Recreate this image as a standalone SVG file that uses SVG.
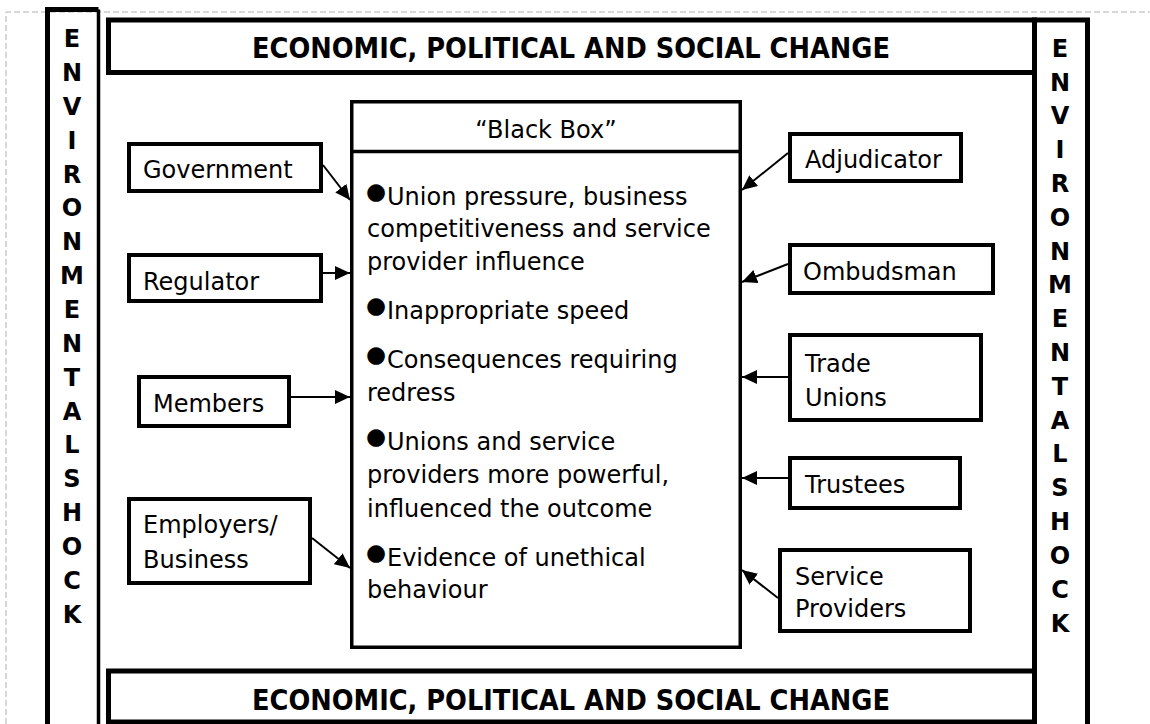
<svg xmlns="http://www.w3.org/2000/svg" width="1150" height="724" viewBox="0 0 1150 724">
<style>
text{font-family:"DejaVu Sans","Liberation Sans",sans-serif;fill:#000}
.t{font-size:24px}
.b{font-size:28px;font-weight:bold}
.env{font-size:24px;font-weight:bold;text-anchor:middle}
.box{fill:#fff;stroke:#000;stroke-width:4}
.frame{fill:none;stroke:#000;stroke-width:5}
.con line{stroke:#000;stroke-width:2}
.dot{font-size:23px}
</style>
<defs>
<marker id="ah" markerUnits="userSpaceOnUse" markerWidth="16" markerHeight="14" refX="15" refY="7" orient="auto">
<path d="M0,0 L15,7 L0,14 z" fill="#000"/>
</marker>
</defs>
<rect width="1150" height="724" fill="#fff"/>
<path d="M6,724 V12 H1150" fill="none" stroke="#b0b0b0" stroke-width="1" stroke-dasharray="6,3"/>

<g id="env-left">
<path d="M47.5,730 V9.5 H98.5" class="frame"/>
<line x1="98.5" y1="9.5" x2="98.5" y2="730" stroke="#000" stroke-width="3.5"/>
<text class="env" x="72"><tspan y="47">E</tspan><tspan x="72" y="81">N</tspan><tspan x="72" y="115">V</tspan><tspan x="72" y="149">I</tspan><tspan x="72" y="183">R</tspan><tspan x="72" y="216">O</tspan><tspan x="72" y="250">N</tspan><tspan x="72" y="284">M</tspan><tspan x="72" y="318">E</tspan><tspan x="72" y="352">N</tspan><tspan x="72" y="386">T</tspan><tspan x="72" y="420">A</tspan><tspan x="72" y="453">L</tspan><tspan x="72" y="487">S</tspan><tspan x="72" y="521">H</tspan><tspan x="72" y="555">O</tspan><tspan x="72" y="589">C</tspan><tspan x="72" y="623">K</tspan></text>
</g>

<g id="env-right">
<rect x="1034.5" y="20" width="53" height="720" class="frame"/>
<text class="env" x="1060"><tspan y="57">E</tspan><tspan x="1060" y="91">N</tspan><tspan x="1060" y="124">V</tspan><tspan x="1060" y="158">I</tspan><tspan x="1060" y="192">R</tspan><tspan x="1060" y="226">O</tspan><tspan x="1060" y="260">N</tspan><tspan x="1060" y="293">M</tspan><tspan x="1060" y="327">E</tspan><tspan x="1060" y="361">N</tspan><tspan x="1060" y="395">T</tspan><tspan x="1060" y="429">A</tspan><tspan x="1060" y="462">L</tspan><tspan x="1060" y="496">S</tspan><tspan x="1060" y="530">H</tspan><tspan x="1060" y="564">O</tspan><tspan x="1060" y="598">C</tspan><tspan x="1060" y="632">K</tspan></text>
</g>

<g id="banner-top">
<rect x="108.5" y="20" width="926" height="52.5" class="frame"/>
<text class="b" x="571" y="58" text-anchor="middle" textLength="638" lengthAdjust="spacingAndGlyphs">ECONOMIC, POLITICAL AND SOCIAL CHANGE</text>
</g>

<g id="banner-bottom">
<rect x="108.5" y="671" width="926" height="51" class="frame"/>
<text class="b" x="571" y="710" text-anchor="middle" textLength="638" lengthAdjust="spacingAndGlyphs">ECONOMIC, POLITICAL AND SOCIAL CHANGE</text>
</g>

<g id="black-box">
<rect x="351.75" y="101.75" width="388.5" height="545.5" fill="#fff" stroke="#000" stroke-width="3.5"/>
<line x1="351.75" y1="151.5" x2="740.25" y2="151.5" stroke="#000" stroke-width="3.5"/>
<text class="t" x="546" y="138" text-anchor="middle">“Black Box”</text>
<text class="t" x="366" y="205"><tspan class="dot" dy="-6">●</tspan><tspan x="387" dy="6">Union pressure, business</tspan></text>
<text class="t" x="367" y="237">competitiveness and service</text>
<text class="t" x="367" y="270">provider influence</text>
<text class="t" x="366" y="319"><tspan class="dot" dy="-6">●</tspan><tspan x="387" dy="6">Inappropriate speed</tspan></text>
<text class="t" x="366" y="368"><tspan class="dot" dy="-6">●</tspan><tspan x="387" dy="6">Consequences requiring</tspan></text>
<text class="t" x="367" y="401">redress</text>
<text class="t" x="366" y="450"><tspan class="dot" dy="-6">●</tspan><tspan x="387" dy="6">Unions and service</tspan></text>
<text class="t" x="367" y="483">providers more powerful,</text>
<text class="t" x="367" y="517">influenced the outcome</text>
<text class="t" x="366" y="566"><tspan class="dot" dy="-6">●</tspan><tspan x="387" dy="6">Evidence of unethical</tspan></text>
<text class="t" x="367" y="598">behaviour</text>
</g>

<g id="government"><rect x="129" y="144" width="192" height="47" class="box"/><text class="t" x="143" y="178">Government</text></g>
<g id="regulator"><rect x="129" y="255" width="192" height="46" class="box"/><text class="t" x="143" y="290">Regulator</text></g>
<g id="members"><rect x="139" y="377" width="150" height="49" class="box"/><text class="t" x="153" y="412">Members</text></g>
<g id="employers"><rect x="129" y="499" width="181" height="84" class="box"/><text class="t" x="143" y="533">Employers/</text><text class="t" x="143" y="568">Business</text></g>
<g id="adjudicator"><rect x="790" y="134" width="171" height="47" class="box"/><text class="t" x="805" y="168">Adjudicator</text></g>
<g id="ombudsman"><rect x="790" y="245" width="203" height="48" class="box"/><text class="t" x="803" y="280">Ombudsman</text></g>
<g id="trade-unions"><rect x="790" y="335" width="191" height="85" class="box"/><text class="t" x="805" y="372">Trade</text><text class="t" x="805" y="406">Unions</text></g>
<g id="trustees"><rect x="790" y="458" width="170" height="50" class="box"/><text class="t" x="805" y="493">Trustees</text></g>
<g id="service-providers"><rect x="780" y="550" width="190" height="81" class="box"/><text class="t" x="795" y="585">Service</text><text class="t" x="795" y="617">Providers</text></g>

<g id="connectors" class="con">
<line x1="323" y1="165" x2="350" y2="200" marker-end="url(#ah)"/>
<line x1="323" y1="273" x2="350" y2="273" marker-end="url(#ah)"/>
<line x1="291" y1="397" x2="350" y2="397" marker-end="url(#ah)"/>
<line x1="312" y1="538" x2="350" y2="568" marker-end="url(#ah)"/>
<line x1="788" y1="153" x2="742" y2="190" marker-end="url(#ah)"/>
<line x1="788" y1="264" x2="742" y2="282" marker-end="url(#ah)"/>
<line x1="788" y1="377" x2="742" y2="377" marker-end="url(#ah)"/>
<line x1="788" y1="478" x2="742" y2="478" marker-end="url(#ah)"/>
<line x1="778" y1="598" x2="742" y2="570" marker-end="url(#ah)"/>
</g>
</svg>
